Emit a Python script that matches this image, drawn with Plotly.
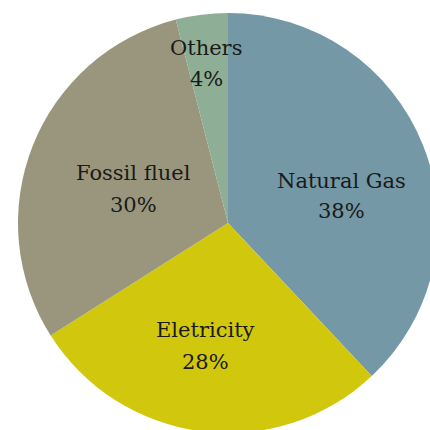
import plotly.graph_objects as go

labels = ["Natural Gas", "Eletricity", "Fossil fluel", "Others"]
values = [38, 28, 30, 4]
colors = ["#7498A5", "#D1C80E", "#9A967D", "#8EAE96"]

# label positions in page pixels: (x centre, name line y, percent line y)
label_pos = [(341, 181, 211), (205, 330, 362), (133, 173, 205), (206, 48, 79)]

W = H = 440
cx, cy, r = 228, 223, 210

fig = go.Figure(go.Pie(
    labels=labels, values=values, sort=False, direction="clockwise", rotation=0,
    marker=dict(colors=colors, line=dict(width=0)),
    textinfo="none", hoverinfo="label+percent", showlegend=False,
    domain=dict(x=[(cx - r) / W, (cx + r) / W], y=[1 - (cy + r) / H, 1 - (cy - r) / H]),
))

total = sum(values)
font = dict(family="DejaVu Serif", size=21, color="#1a1a1a")
for lab, v, (px, py1, py2) in zip(labels, values, label_pos):
    for txt, py in ((lab, py1), (f"{round(100 * v / total)}%", py2)):
        fig.add_annotation(
            x=px / W, y=1 - py / H, xref="paper", yref="paper",
            text=txt, showarrow=False, xanchor="center", yanchor="middle",
            font=font,
        )

fig.update_layout(width=W, height=H, margin=dict(l=0, r=0, t=0, b=0),
                  paper_bgcolor="white", plot_bgcolor="white")

fig.write_html("out.html", post_script=(
    "document.documentElement.style.overflow='hidden';"
    "document.body.style.overflow='hidden';document.body.style.margin='0';"))
